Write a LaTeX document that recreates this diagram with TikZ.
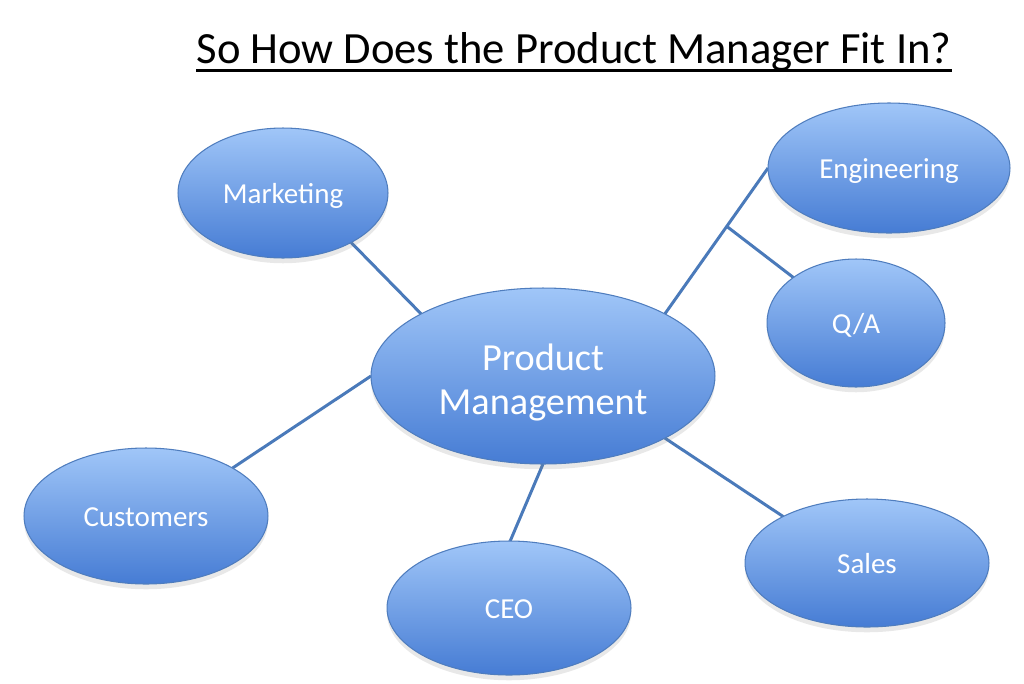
\documentclass[tikz,border=0pt]{standalone}
\usepackage{fontspec}
\setmainfont{Carlito}
\usetikzlibrary{shapes.geometric,shadows,calc}
\pgfdeclarelayer{bg}
\pgfsetlayers{bg,main}
\definecolor{topblue}{RGB}{160,198,248}
\definecolor{botblue}{RGB}{70,124,212}
\definecolor{rimblue}{RGB}{79,125,190}
\definecolor{linkblue}{RGB}{74,122,186}
\tikzset{
  bub/.style={ellipse, inner sep=0pt, outer sep=0pt, draw=rimblue, line width=0.6pt,
    top color=topblue, bottom color=botblue, text=white,
    font=\fontsize{16.5}{19}\selectfont, text height=16pt, text depth=3.5pt,
    drop shadow={opacity=0.18, shadow xshift=0pt, shadow yshift=-3pt}},
  link/.style={draw=linkblue, line width=1.7pt}
}
\begin{document}
\begin{tikzpicture}[x=0.02cm,y=-0.02cm]
\begin{pgfonlayer}{bg}
\fill[white] (0,0) rectangle (1024,683);
\end{pgfonlayer}
\useasboundingbox (0,0) rectangle (1024,683);
\node[inner sep=0pt, anchor=base, font=\fontsize{25.4}{30}\selectfont] (title) at (574,63) {So How Does the Product Manager Fit In?};
\draw[line width=1.8pt] ([yshift=-4.5pt]title.base west) -- ([yshift=-4.5pt]title.base east);

\node[bub, minimum width=4.2cm, minimum height=2.6cm] (mkt) at (283,193) {Marketing};
\node[bub, minimum width=4.84cm, minimum height=2.6cm] (eng) at (889,168) {Engineering};
\node[bub, minimum width=3.56cm, minimum height=2.56cm] (qa) at (856,323) {Q/A};
\node[bub, minimum width=6.88cm, minimum height=3.52cm, align=center,
  font=\fontsize{21.8}{25}\selectfont, text height=48pt, text depth=4.4pt] (pm) at (543,376) {Product\\Management};
\node[bub, minimum width=4.88cm, minimum height=2.72cm] (cus) at (146,516) {Customers};
\node[bub, minimum width=4.88cm, minimum height=2.68cm] (ceo) at (509,608) {CEO};
\node[bub, minimum width=4.88cm, minimum height=2.56cm] (sales) at (867,563) {Sales};

\begin{pgfonlayer}{bg}
\draw[link] (mkt.-36) -- (pm.153);
\draw[link] (pm.27) -- coordinate[pos=0.6] (br) (eng.180);
\draw[link] (br) -- (qa.144);
\draw[link] (cus.29) -- (pm.180);
\draw[link] (pm.-90) -- (ceo.89);
\draw[link] (pm.-27) -- (sales.151);
\end{pgfonlayer}
\end{tikzpicture}
\end{document}
